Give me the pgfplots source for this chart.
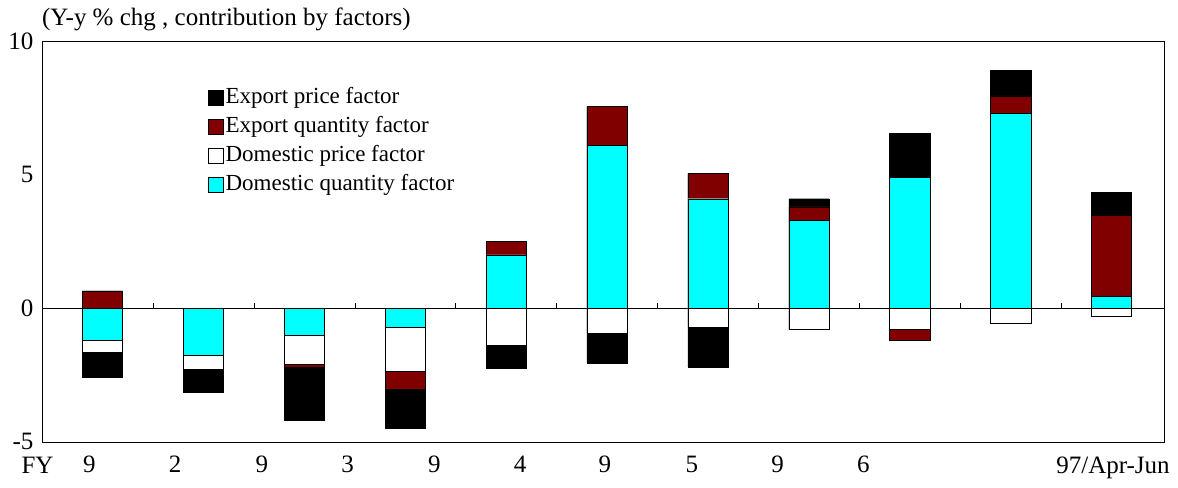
\documentclass[border=0pt]{standalone}
\usepackage{pgfplots}
\pgfplotsset{compat=1.18}
\usepackage{fontspec}
\setmainfont{Liberation Serif}
\definecolor{dred}{HTML}{800000}
\definecolor{cy}{HTML}{00FFFF}
\begin{document}
\fontsize{25}{30}\selectfont
\begin{tikzpicture}
\begin{axis}[
  scale only axis, width=1118bp, height=399bp,
  xmin=-0.6, xmax=10.52, ymin=-5, ymax=10,
  ytick={-5,0,5,10}, yticklabels={-5,0,5,10},
  /pgf/number format/assume math mode=true,
  tick label style={font=\fontsize{25}{30}\selectfont},
  tick style={black}, major tick length=0pt,
  xtick={-0.13,0.72,1.58,2.43,3.29,4.14,4.98,5.84,6.69,7.54},
  xticklabels={9,2,9,3,9,4,9,5,9,6},
  x tick label style={yshift=-6pt},
  ybar, bar width=40bp, bar shift=0pt,
  clip=false,
  legend image code/.code={\draw[#1,draw=black] (0bp,-8bp) rectangle (15bp,7bp);},
  legend style={at={(0.148,0.89)},anchor=north west,draw=none,fill=none,font=\fontsize{23}{27}\selectfont,row sep=5pt,inner xsep=0pt,inner ysep=0pt},
  legend cell align=left,
]
\draw[black] (axis cs:-0.6,0) -- (axis cs:10.52,0);
\pgfplotsinvokeforeach{0.5,1.5,2.5,3.5,4.5,5.5,6.5,7.5,8.5,9.5}{\draw (axis cs:#1,0) -- (axis cs:#1,0.2);}
\node[anchor=base east] at (axis cs:-0.4,-6.2) {FY};
\node[anchor=base east] at (axis cs:10.66,-6.2) {97/Apr-Jun};
\node[anchor=south west,inner xsep=0pt] at (axis cs:-0.6,10.05) {(Y-y \% chg , contribution by factors)};
\addplot[fill=black,draw=black] coordinates {(0,0.65)(1,0)(2,0)(3,0)(4,2.5)(5,7.55)(6,5.05)(7,4.1)(8,6.55)(9,8.9)(10,4.35)};
\addplot[fill=dred,draw=black] coordinates {(0,0.65)(1,0)(2,0)(3,0)(4,2.5)(5,7.55)(6,5.05)(7,3.8)(8,4.9)(9,7.95)(10,3.5)};
\addplot[fill=white,draw=black] coordinates {(0,0)(1,0)(2,0)(3,0)(4,2.0)(5,6.1)(6,4.1)(7,3.3)(8,4.9)(9,7.3)(10,0.45)};
\addplot[fill=cy,draw=black] coordinates {(0,0)(1,0)(2,0)(3,0)(4,2.0)(5,6.1)(6,4.1)(7,3.3)(8,4.9)(9,7.3)(10,0.45)};
\addplot[fill=black,draw=black,forget plot] coordinates {(0,-2.6)(1,-3.15)(2,-4.2)(3,-4.5)(4,-2.25)(5,-2.05)(6,-2.2)(7,-0.8)(8,-1.2)(9,-0.55)(10,-0.3)};
\addplot[fill=dred,draw=black,forget plot] coordinates {(0,-1.65)(1,-2.3)(2,-2.2)(3,-3.05)(4,-1.4)(5,-0.95)(6,-0.7)(7,-0.8)(8,-1.2)(9,-0.55)(10,-0.3)};
\addplot[fill=white,draw=black,forget plot] coordinates {(0,-1.65)(1,-2.3)(2,-2.1)(3,-2.35)(4,-1.4)(5,-0.95)(6,-0.7)(7,-0.8)(8,-0.8)(9,-0.55)(10,-0.3)};
\addplot[fill=cy,draw=black,forget plot] coordinates {(0,-1.2)(1,-1.75)(2,-1.0)(3,-0.7)(4,0)(5,0)(6,0)(7,0)(8,0)(9,0)(10,0)};
\legend{Export price factor,Export quantity factor,Domestic price factor,Domestic quantity factor}
\end{axis}
\end{tikzpicture}
\end{document}
